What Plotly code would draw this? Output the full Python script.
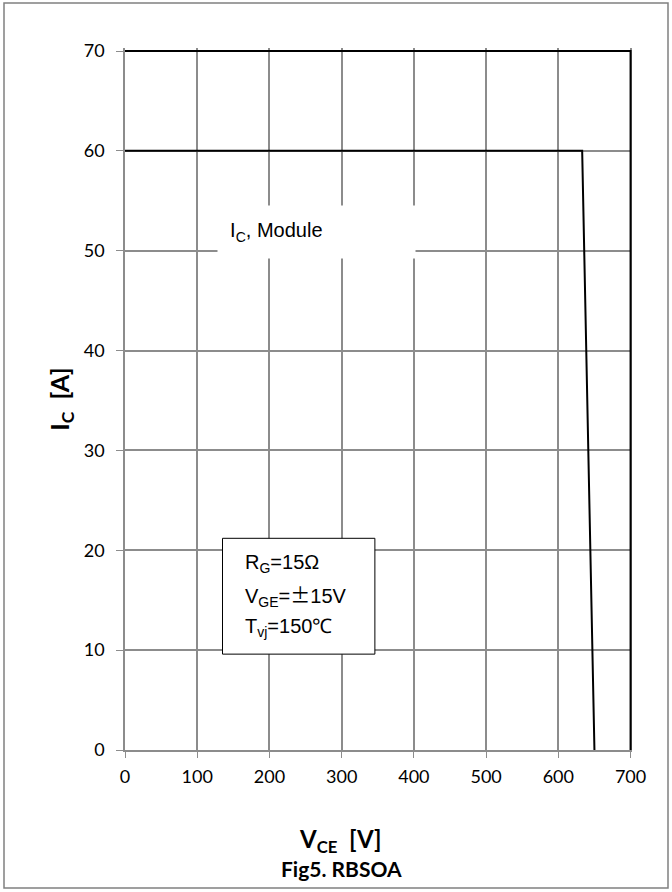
import plotly.graph_objects as go

# data
rbsoa_v = [0, 633, 650]
rbsoa_i = [60, 60, 0]
limit_v = [0, 700, 700]
limit_i = [70, 70, 0]
x_ticks = [0, 100, 200, 300, 400, 500, 600, 700]
y_ticks = [0, 10, 20, 30, 40, 50, 60, 70]

TICKFONT = dict(family="Lato", size=18, color="#000000")
TXTFONT = "Liberation Sans"

L, R, T, B = 125, 40, 48, 142
PW = 672 - L - R
PH = 892 - T - B


def px_x(px):
    return (px - L) / PW


def px_y(py):
    return (892 - B - py) / PH


fig = go.Figure()
fig.add_trace(go.Scatter(x=limit_v, y=limit_i, mode="lines",
                         line=dict(color="#000000", width=2), showlegend=False))
fig.add_trace(go.Scatter(x=rbsoa_v, y=rbsoa_i, mode="lines",
                         line=dict(color="#000000", width=2), showlegend=False))

fig.update_layout(
    width=672, height=892,
    margin=dict(l=L, r=R, t=T, b=B),
    paper_bgcolor="white", plot_bgcolor="white",
    xaxis=dict(range=[0, 702], tickvals=x_ticks, showgrid=True, gridcolor="#8c8c8c",
               gridwidth=1.5, zeroline=False, showline=True, linecolor="#8c8c8c",
               linewidth=1.5, ticks="outside", ticklen=6, tickcolor="#8c8c8c",
               tickfont=TICKFONT, fixedrange=True, ticklabelstandoff=4),
    yaxis=dict(range=[0, 70.3], tickvals=y_ticks, showgrid=True, gridcolor="#8c8c8c",
               gridwidth=1.5, zeroline=False, showline=True, linecolor="#8c8c8c",
               linewidth=1.5, ticks="outside", ticklen=7, tickcolor="#8c8c8c",
               tickfont=TICKFONT, fixedrange=True, ticklabelstandoff=8,
               title=dict(text="<b>I<sub>C</sub>&nbsp;&nbsp;[A]</b>",
                          font=dict(family="Lato", size=25, color="#000000"),
                          standoff=7)),
)

# outer border
fig.add_shape(type="rect", xref="paper", yref="paper",
              x0=px_x(4), x1=px_x(668), y0=px_y(888), y1=px_y(3),
              line=dict(color="#808080", width=1.5), layer="below")

# "IC, Module" label with white background
fig.add_annotation(x=265, y=51.9, xref="x", yref="y", showarrow=False,
                   text="&nbsp;&nbsp;I<sub>C</sub>, Module", bgcolor="white", width=195, height=50,
                   align="left", font=dict(family=TXTFONT, size=20, color="#000000"))

# condition box
fig.add_shape(type="rect", xref="x", yref="y", x0=135, x1=346, y0=9.6, y1=21.2,
              line=dict(color="#000000", width=1), fillcolor="white", layer="above")
PM = '<span style="font-family:\'Noto Sans CJK SC\'">±</span>'
cond_lines = ["R<sub>G</sub>=15Ω", "V<sub>GE</sub>=" + PM + "15V", "T<sub>vj</sub>=150℃"]
cond_y = [18.7, 15.5, 12.3]
for t, yy in zip(cond_lines, cond_y):
    fig.add_annotation(x=163, y=yy, xref="x", yref="y", showarrow=False, xanchor="left",
                       text=t, font=dict(family=TXTFONT, size=20, color="#000000"))

# x-axis title and figure caption
fig.add_annotation(x=px_x(340), y=px_y(840), xref="paper", yref="paper", showarrow=False,
                   text="<b>V<sub>CE</sub>&nbsp;&nbsp;[V]</b>", yanchor="middle",
                   font=dict(family="Lato", size=24, color="#000000"))
fig.add_annotation(x=px_x(341), y=px_y(869), xref="paper", yref="paper", showarrow=False,
                   text="<b>Fig5. RBSOA</b>", yanchor="middle",
                   font=dict(family="Lato", size=21, color="#000000"))

fig.write_html("out.html")
